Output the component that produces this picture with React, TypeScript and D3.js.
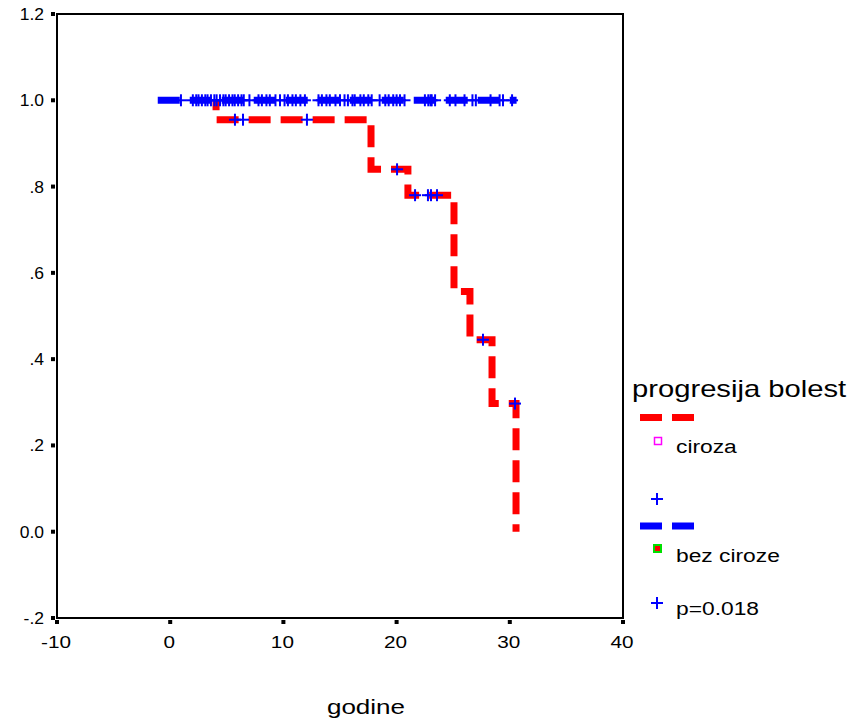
import React from "react";
import * as d3 from "d3";

// ---- data ----
const xTicks = [-10, 0, 10, 20, 30, 40];
const xTickLabels = ["-10", "0", "10", "20", "30", "40"];
const yTicks = [-0.2, 0, 0.2, 0.4, 0.6, 0.8, 1.0, 1.2];
const yTickLabels = ["-.2", "0.0", ".2", ".4", ".6", ".8", "1.0", "1.2"];

// ciroza (red) step curve: drawn from the first event (earlier part hidden under blue)
const redTimes = [4.05, 4.05, 17.74, 21.0, 25.07, 26.48, 28.43, 30.55];
const redSurv = [1.0, 0.955, 0.84, 0.78, 0.557, 0.445, 0.297, 0.0];
const redCensorTimes = [5.72, 6.43, 12.08, 20.04, 21.63, 22.77, 23.04, 23.57, 27.63, 30.46];

// bez ciroze (blue) curve
const blueTimes = [-1.1, 30.6];
const blueSurv = [1.0, 1.0];
const blueCensorTimes = [
  0.95, 2.0, 2.3, 2.5, 2.8, 3.1, 3.3, 3.6, 3.9, 4.1, 4.4, 4.7, 4.9, 5.2, 5.5, 5.7, 6.0, 6.3, 6.5,
  7.0, 7.8, 8.1, 8.5, 8.8, 9.3, 9.7, 10.1, 10.4, 10.8, 11.1, 11.5, 11.9, 13.1, 13.4, 13.8, 14.1,
  14.6, 15.0, 15.4, 15.7, 16.1, 16.3, 16.8, 17.1, 17.5, 17.8, 18.5, 19.0, 19.3, 19.7, 20.0, 20.3,
  20.7, 22.5, 22.8, 23.0, 23.1, 23.4, 24.7, 25.2, 26.0, 26.7, 27.0, 28.3, 29.1, 29.4, 30.2,
];

const legendTitle = "progresija bolest";
const legendLabels = ["ciroza", "bez ciroze", "p=0.018"];
const xTitle = "godine";

const FONT = "'Liberation Sans', Arial, sans-serif";

function stepValue(times: number[], surv: number[], t: number) {
  let v = surv[0];
  for (let i = 0; i < times.length; i++) if (times[i] <= t) v = surv[i];
  return v;
}

function Plus({ x, y }: { x: number; y: number }) {
  return (
    <g stroke="#0000ff" strokeWidth={2}>
      <line x1={x - 6} x2={x + 6} y1={y} y2={y} />
      <line x1={x} x2={x} y1={y - 6} y2={y + 6} />
    </g>
  );
}

function T({
  x,
  y,
  size,
  sx = 1,
  anchor = "start",
  children,
}: {
  x: number;
  y: number;
  size: number;
  sx?: number;
  anchor?: string;
  children: React.ReactNode;
}) {
  return (
    <text
      transform={`translate(${x},${y}) scale(${sx},1)`}
      textAnchor={anchor as any}
      fontSize={size}
      fill="#000"
    >
      {children}
    </text>
  );
}

export default function App() {
  const x = d3.scaleLinear().domain([-10, 40]).range([57, 623]);
  const y = d3.scaleLinear().domain([-0.2, 1.2]).range([618, 14]);

  const stepLine = d3
    .line<[number, number]>()
    .x((d) => x(d[0]))
    .y((d) => y(d[1]))
    .curve(d3.curveStepAfter);

  const redPts: [number, number][] = redTimes.map((t, i) => [t, redSurv[i]]);
  const bluePts: [number, number][] = blueTimes.map((t, i) => [t, blueSurv[i]]);

  return (
    <svg
      width={851}
      height={728}
      style={{ position: "absolute", left: 0, top: 0, background: "#fff" }}
      fontFamily={FONT}
    >
      <rect x={0} y={0} width={851} height={728} fill="#fff" />
      {/* curves */}
      <path
        d={stepLine(redPts) || ""}
        fill="none"
        stroke="#ff0000"
        strokeWidth={7}
        strokeDasharray="22,10"
        strokeDashoffset={12}
      />
      <path d={stepLine(bluePts) || ""} fill="none" stroke="#0000ff" strokeWidth={7} strokeDasharray="22,10" />
      {blueCensorTimes.map((t, i) => (
        <Plus key={"b" + i} x={x(t)} y={y(stepValue(blueTimes, blueSurv, t))} />
      ))}
      {redCensorTimes.map((t, i) => (
        <Plus key={"r" + i} x={x(t)} y={y(stepValue(redTimes, redSurv, t))} />
      ))}

      {/* frame */}
      <rect x={57} y={14} width={566} height={604} fill="none" stroke="#000" strokeWidth={2} />

      {/* y ticks */}
      {yTicks.map((v, i) => (
        <g key={"yt" + i}>
          <rect x={51} y={y(v) - 2} width={4} height={4} fill="#000" />
          <T x={44} y={y(v) + 6} size={17} sx={1.03} anchor="end">
            {yTickLabels[i]}
          </T>
        </g>
      ))}
      {/* x ticks */}
      {xTicks.map((v, i) => (
        <g key={"xt" + i}>
          <rect x={x(v) - 2} y={620} width={4} height={4} fill="#000" />
          <T x={x(v) - 1} y={648} size={17} sx={1.22} anchor="middle">
            {xTickLabels[i]}
          </T>
        </g>
      ))}

      <T x={366} y={714} size={21} sx={1.24} anchor="middle">
        {xTitle}
      </T>

      {/* legend */}
      <T x={632} y={397} size={23} sx={1.27}>
        {legendTitle}
      </T>
      <line x1={640} x2={694} y1={417.5} y2={417.5} stroke="#ff0000" strokeWidth={7} strokeDasharray="22,10" />
      <rect x={654.5} y={437.5} width={7} height={7} fill="none" stroke="#ff00ff" strokeWidth={1.5} />
      <T x={676} y={453} size={19} sx={1.2}>
        {legendLabels[0]}
      </T>
      <Plus x={657} y={499} />
      <line x1={640} x2={694} y1={526} y2={526} stroke="#0000ff" strokeWidth={7} strokeDasharray="22,10" />
      <rect x={654} y={545} width={7} height={7} fill="#ff0000" stroke="#00e000" strokeWidth={2} />
      <T x={676} y={562} size={19} sx={1.2}>
        {legendLabels[1]}
      </T>
      <Plus x={657} y={603} />
      <T x={676} y={615} size={19} sx={1.2}>
        {legendLabels[2]}
      </T>
    </svg>
  );
}
